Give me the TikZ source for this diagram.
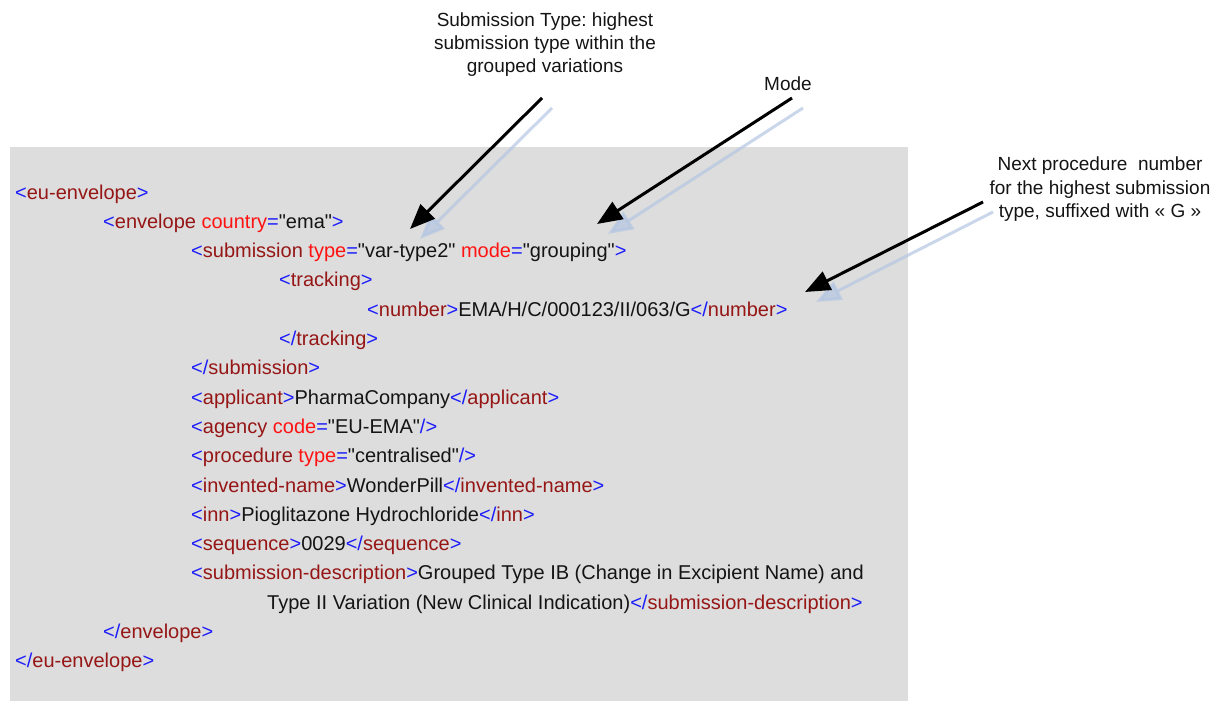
\documentclass[tikz,border=0pt]{standalone}
\usepackage{fontspec}
\setmainfont{Liberation Sans}
\newfontfamily\codefont{Liberation Sans}
\usetikzlibrary{arrows.meta}
\definecolor{xblue}{RGB}{28,28,250}
\definecolor{xelem}{RGB}{150,22,22}
\definecolor{xattr}{RGB}{255,18,18}
\definecolor{xtext}{RGB}{20,20,20}
\definecolor{boxgrey}{RGB}{221,221,221}
\definecolor{shadowblue}{RGB}{180,198,226}
\newcommand\xb[1]{\textcolor{xblue}{#1}}
\newcommand\xe[1]{\textcolor{xelem}{#1}}
\newcommand\xa[1]{\textcolor{xattr}{#1}}
\frenchspacing
\begin{document}
\begin{tikzpicture}[x=1pt,y=-1pt,
  codeline/.style={anchor=base west,inner sep=0pt,text=xtext,font=\codefont\fontsize{20}{24}\selectfont},
  label/.style={anchor=base,inner sep=0pt,text=xtext,font=\codefont\fontsize{19}{23}\selectfont},
  callout/.style={line width=3pt,black,-{Triangle[length=25pt,width=20pt]}},
  shadowarrow/.style={line width=3pt,shadowblue,opacity=0.7,-{Triangle[length=25pt,width=20pt]}}]
\useasboundingbox (0,0) rectangle (1223,701);
\fill[boxgrey] (10,147) rectangle (908,701);
% code lines
\node[codeline] (l0) at (15,199) {\xb{<}\xe{eu-envelope}\xb{>}};
\node[codeline] (l1) at (103,228.3) {\xb{<}\xe{envelope} \xa{country}\xb{=}"ema"\xb{>}};
\node[codeline] (l2) at (191,257.6) {\xb{<}\xe{submission} \xa{type}\xb{=}"var-type2" \xa{mode}\xb{=}"grouping"\xb{>}};
\node[codeline] (l3) at (279,286.9) {\xb{<}\xe{tracking}\xb{>}};
\node[codeline] (l4) at (367,316.2) {\xb{<}\xe{number}\xb{>}EMA/H/C/000123/II/063/G\xb{</}\xe{number}\xb{>}};
\node[codeline] (l5) at (279,345.5) {\xb{</}\xe{tracking}\xb{>}};
\node[codeline] (l6) at (191,374.8) {\xb{</}\xe{submission}\xb{>}};
\node[codeline] (l7) at (191,404.1) {\xb{<}\xe{applicant}\xb{>}PharmaCompany\xb{</}\xe{applicant}\xb{>}};
\node[codeline] (l8) at (191,433.4) {\xb{<}\xe{agency} \xa{code}\xb{=}"EU-EMA"\xb{/>}};
\node[codeline] (l9) at (191,462.7) {\xb{<}\xe{procedure} \xa{type}\xb{=}"centralised"\xb{/>}};
\node[codeline] (l10) at (191,492.0) {\xb{<}\xe{invented-name}\xb{>}WonderPill\xb{</}\xe{invented-name}\xb{>}};
\node[codeline] (l11) at (191,521.3) {\xb{<}\xe{inn}\xb{>}Pioglitazone Hydrochloride\xb{</}\xe{inn}\xb{>}};
\node[codeline] (l12) at (191,550.6) {\xb{<}\xe{sequence}\xb{>}0029\xb{</}\xe{sequence}\xb{>}};
\node[codeline] (l13) at (191,579.9) {\xb{<}\xe{submission-description}\xb{>}Grouped Type IB (Change in Excipient Name) and};
\node[codeline] (l14) at (267,609.2) {Type II Variation (New Clinical Indication)\xb{</}\xe{submission-description}\xb{>}};
\node[codeline] (l15) at (103,638.5) {\xb{</}\xe{envelope}\xb{>}};
\node[codeline] (l16) at (15,667.8) {\xb{</}\xe{eu-envelope}\xb{>}};
% labels
\node[label] (t1a) at (545,27) {Submission Type: highest};
\node[label] (t1b) at (545,50) {submission type within the};
\node[label] (t1c) at (545,73) {grouped variations};
\node[label] (t2) at (788,90) {Mode};
\node[label] (t3a) at (1100,170) {Next procedure\ \ number};
\node[label] (t3b) at (1100,194) {for the highest submission};
\node[label] (t3c) at (1100,217) {type, suffixed with «~G~»};
% arrow end points
\coordinate (s1) at (542,98);  \coordinate (e1) at (410,229);
\coordinate (s1s) at (552,108); \coordinate (e1s) at (420,239);
\coordinate (s2) at (792,98);  \coordinate (e2) at (597,224);
\coordinate (s2s) at (803,108); \coordinate (e2s) at (608,234);
\coordinate (s3) at (983,202); \coordinate (e3) at (805,292);
\coordinate (s3s) at (993,212); \coordinate (e3s) at (816,302);
% shadows
\draw[shadowarrow] (s1s) -- (e1s);
\draw[shadowarrow] (s2s) -- (e2s);
\draw[shadowarrow] (s3s) -- (e3s);
% arrows
\draw[callout] (s1) -- (e1);
\draw[callout] (s2) -- (e2);
\draw[callout] (s3) -- (e3);
\end{tikzpicture}
\end{document}
